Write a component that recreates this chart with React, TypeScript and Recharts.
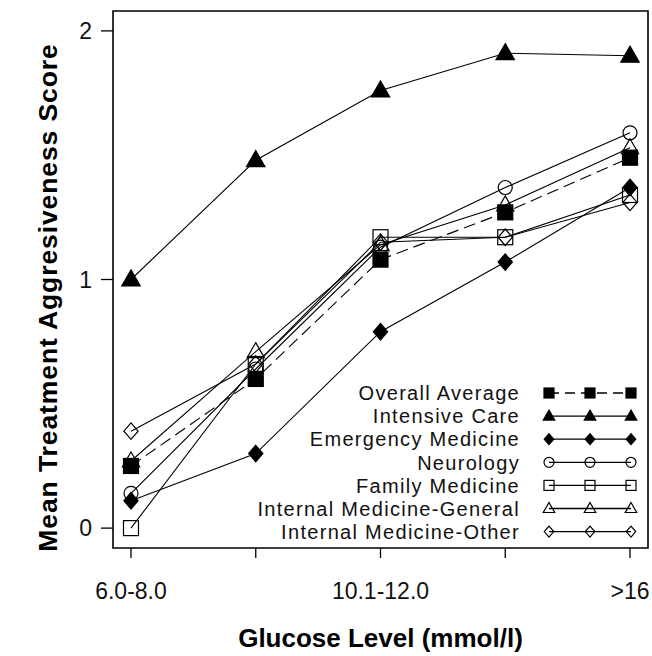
import React from 'react';
import { LineChart, Line, XAxis, YAxis, ReferenceArea, Legend } from 'recharts';

const categories = ['6.0-8.0', '8.1-10.0', '10.1-12.0', '12.1-16.0', '>16'];
const shownTicks = ['6.0-8.0', '10.1-12.0', '>16'];
const yTicks = [0, 1, 2];

const overallAverage = [0.25, 0.6, 1.08, 1.27, 1.49];
const intensiveCare = [1.0, 1.48, 1.76, 1.91, 1.9];
const emergencyMedicine = [0.11, 0.3, 0.79, 1.07, 1.37];
const neurology = [0.14, 0.64, 1.13, 1.37, 1.59];
const familyMedicine = [0.0, 0.66, 1.17, 1.17, 1.34];
const imGeneral = [0.27, 0.71, 1.14, 1.3, 1.53];
const imOther = [0.39, 0.66, 1.15, 1.17, 1.31];

type Shape = 'squareFill' | 'triFill' | 'diaFill' | 'circle' | 'square' | 'tri' | 'dia';

const series: { key: string; name: string; values: number[]; shape: Shape; dash?: string }[] = [
  { key: 'ic', name: 'Intensive Care', values: intensiveCare, shape: 'triFill' },
  { key: 'em', name: 'Emergency Medicine', values: emergencyMedicine, shape: 'diaFill' },
  { key: 'ne', name: 'Neurology', values: neurology, shape: 'circle' },
  { key: 'fm', name: 'Family Medicine', values: familyMedicine, shape: 'square' },
  { key: 'ig', name: 'Internal Medicine-General', values: imGeneral, shape: 'tri' },
  { key: 'io', name: 'Internal Medicine-Other', values: imOther, shape: 'dia' },
  { key: 'ov', name: 'Overall Average', values: overallAverage, shape: 'squareFill', dash: '12 6' },
];

const legendOrder = ['ov', 'ic', 'em', 'ne', 'fm', 'ig', 'io'];

const data = categories.map((cat, i) => {
  const row: Record<string, number | string> = { x: i, cat };
  series.forEach((s) => {
    row[s.key] = s.values[i];
  });
  return row;
});

const xPad = 0.1443;
const xMin = -xPad;
const xMax = categories.length - 1 + xPad;
const yMin = -0.08;
const yMax = 2.08;

const FONT = '"Liberation Sans", Arial, sans-serif';

function Marker({ shape, cx, cy, s }: { shape: Shape; cx: number; cy: number; s: number }) {
  const filled = shape.endsWith('Fill');
  const fill = filled ? '#000' : 'none';
  const common = { fill, stroke: '#000', strokeWidth: 1.2 };
  if (shape === 'squareFill' || shape === 'square') {
    return <rect x={cx - s / 2} y={cy - s / 2} width={s} height={s} {...common} />;
  }
  if (shape === 'triFill' || shape === 'tri') {
    const w = s * 1.15;
    const h = s;
    return (
      <polygon
        points={`${cx},${cy - h * 0.6} ${cx + w / 2},${cy + h * 0.4} ${cx - w / 2},${cy + h * 0.4}`}
        {...common}
      />
    );
  }
  if (shape === 'diaFill' || shape === 'dia') {
    const w = s * 0.95;
    const h = s * 1.1;
    return (
      <polygon
        points={`${cx},${cy - h / 2} ${cx + w / 2},${cy} ${cx},${cy + h / 2} ${cx - w / 2},${cy}`}
        {...common}
      />
    );
  }
  return <circle cx={cx} cy={cy} r={s / 2} {...common} />;
}

function LegendBox() {
  const left = 240;
  const top = 378;
  const symX = [549, 590, 631].map((v) => v - left);
  return (
    <svg width={412} height={172} style={{ display: 'block' }}>
      {legendOrder.map((k, i) => {
        const s = series.find((d) => d.key === k)!;
        const cy = 393 - top + i * 23.1;
        return (
          <g key={k}>
            <text
              x={520 - left}
              y={cy}
              dy="0.36em"
              textAnchor="end"
              fontFamily={FONT}
              fontSize={20}
              letterSpacing={1.3}
              fill="#111"
            >
              {s.name}
            </text>
            <line
              x1={symX[0]}
              x2={symX[2]}
              y1={cy}
              y2={cy}
              stroke="#000"
              strokeWidth={1.3}
              strokeDasharray={s.dash ? '10 6' : undefined}
            />
            {symX.map((sx, j) => (
              <Marker key={j} shape={s.shape} cx={sx} cy={cy} s={10} />
            ))}
          </g>
        );
      })}
    </svg>
  );
}

const markerSize: Record<Shape, number> = {
  squareFill: 15,
  square: 15,
  triFill: 16,
  tri: 15,
  diaFill: 15,
  dia: 15,
  circle: 14,
};

export default function App() {
  return (
    <div style={{ position: 'absolute', left: 0, top: 0, background: '#fff' }}>
      <LineChart width={652} height={656} data={data} margin={{ top: 11, right: 4, left: 0, bottom: 0 }}>
        <XAxis
          type="number"
          dataKey="x"
          domain={[xMin, xMax]}
          ticks={categories.map((_, i) => i)}
          tickFormatter={(v: number) => (shownTicks.includes(categories[v]) ? categories[v] : '')}
          allowDataOverflow
          axisLine={false}
          tickLine={{ stroke: '#000', strokeWidth: 1.3 }}
          tickSize={10}
          tickMargin={25}
          height={108}
          tick={{ fill: '#111', fontSize: 23, fontFamily: FONT }}
          label={{
            value: 'Glucose Level (mmol/l)',
            position: 'insideBottom',
            offset: 9,
            style: { fontFamily: FONT, fontSize: 26, fontWeight: 700, fill: '#000' },
          }}
        />
        <YAxis
          type="number"
          domain={[yMin, yMax]}
          ticks={yTicks}
          allowDataOverflow
          axisLine={false}
          tickLine={{ stroke: '#000', strokeWidth: 1.3 }}
          tickSize={12}
          tickMargin={9}
          width={113}
          tick={{ fill: '#111', fontSize: 23, fontFamily: FONT }}
          label={(props: any) => {
            const vb = props.viewBox || { x: 0, y: 11, height: 537 };
            const cx = vb.x + 57;
            const cy = vb.y + vb.height / 2 + 18;
            return (
              <text
                x={cx}
                y={cy}
                transform={`rotate(-90, ${cx}, ${cy})`}
                textAnchor="middle"
                fontFamily={FONT}
                fontSize={26.5}
                letterSpacing={0.9}
                fontWeight={700}
                fill="#000"
              >
                Mean Treatment Aggresiveness Score
              </text>
            );
          }}
        />
        <ReferenceArea
          x1={xMin}
          x2={xMax}
          y1={yMin}
          y2={yMax}
          fill="none"
          stroke="#000"
          strokeWidth={1.6}
          ifOverflow="visible"
        />
        {series.map((s) => (
          <Line
            key={s.key}
            dataKey={s.key}
            name={s.name}
            type="linear"
            stroke="#000"
            strokeWidth={1.1}
            strokeDasharray={s.dash}
            isAnimationActive={false}
            dot={(p: any) => (
              <Marker key={`${s.key}-${p.index}`} shape={s.shape} cx={p.cx} cy={p.cy} s={markerSize[s.shape]} />
            )}
            activeDot={false}
          />
        ))}
        <Legend
          layout="vertical"
          verticalAlign="middle"
          align="center"
          wrapperStyle={{ position: 'absolute', left: 240, top: 378, width: 412, height: 172 }}
          content={() => <LegendBox />}
        />
      </LineChart>
    </div>
  );
}
